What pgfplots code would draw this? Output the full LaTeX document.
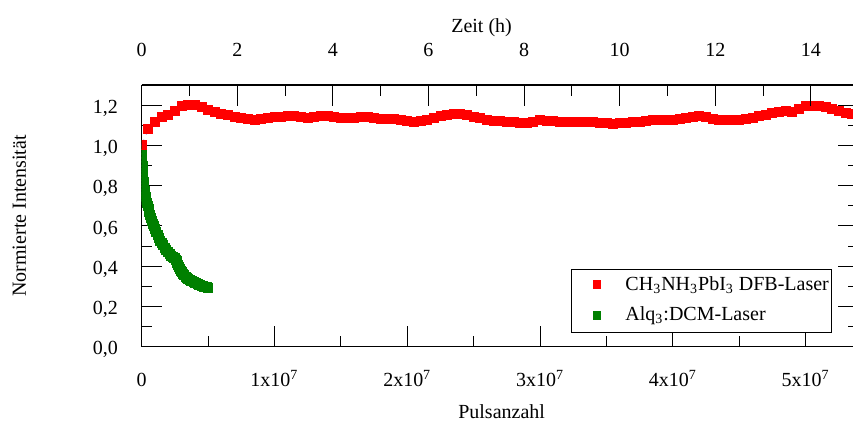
\documentclass[border=0pt]{standalone}
\usepackage{fontspec}
\setmainfont{Liberation Serif}
\usepackage{pgfplots}
\pgfplotsset{compat=1.18}

\definecolor{laserred}{RGB}{255,0,0}
\definecolor{lasergreen}{RGB}{0,128,0}

% Normalised intensity of the perovskite DFB laser (pulses, intensity)
\pgfplotstableread{
x y
0 1.000
0.5e6 1.083
1.0e6 1.118
1.5e6 1.140
2.0e6 1.150
2.5e6 1.170
3.0e6 1.195
3.5e6 1.203
4.0e6 1.200
4.5e6 1.192
5.0e6 1.178
5.5e6 1.165
6.0e6 1.158
6.5e6 1.152
7.0e6 1.143
7.5e6 1.138
8.0e6 1.132
8.5e6 1.127
9.0e6 1.130
9.5e6 1.137
10e6 1.140
10.5e6 1.143
11e6 1.145
11.5e6 1.145
12e6 1.140
12.5e6 1.137
13e6 1.140
13.5e6 1.145
14e6 1.147
14.5e6 1.140
15e6 1.135
15.5e6 1.135
16e6 1.138
16.5e6 1.142
17e6 1.140
17.5e6 1.137
18e6 1.133
18.5e6 1.130
19e6 1.130
19.5e6 1.125
20e6 1.120
20.5e6 1.118
21e6 1.120
21.5e6 1.125
22e6 1.135
22.5e6 1.145
23e6 1.152
23.5e6 1.157
24e6 1.158
24.5e6 1.150
25e6 1.140
25.5e6 1.135
26e6 1.128
26.5e6 1.123
27e6 1.120
27.5e6 1.117
28e6 1.115
28.5e6 1.113
29e6 1.113
29.5e6 1.118
30e6 1.125
30.5e6 1.123
31e6 1.120
31.5e6 1.118
32e6 1.117
32.5e6 1.117
33e6 1.117
33.5e6 1.117
34e6 1.116
34.5e6 1.114
35e6 1.110
35.5e6 1.108
36e6 1.110
36.5e6 1.113
37e6 1.117
37.5e6 1.118
38e6 1.122
38.5e6 1.125
39e6 1.125
39.5e6 1.127
40e6 1.128
40.5e6 1.132
41e6 1.138
41.5e6 1.143
42e6 1.145
42.5e6 1.140
43e6 1.133
43.5e6 1.128
44e6 1.125
44.5e6 1.125
45e6 1.128
45.5e6 1.133
46e6 1.137
46.5e6 1.145
47e6 1.153
47.5e6 1.162
48e6 1.168
48.5e6 1.170
49e6 1.167
49.5e6 1.180
50e6 1.195
50.5e6 1.198
51e6 1.197
51.5e6 1.192
52e6 1.182
52.5e6 1.170
53e6 1.160
53.5e6 1.155
54e6 1.150
}\perovskite

% Normalised intensity of the Alq3:DCM reference laser
\pgfplotstableread{
x y
0 1.000
0.01e6 0.980
0.02e6 0.960
0.03e6 0.940
0.04e6 0.920
0.055e6 0.900
0.07e6 0.880
0.085e6 0.865
0.10e6 0.850
0.125e6 0.835
0.15e6 0.820
0.175e6 0.805
0.20e6 0.790
0.235e6 0.775
0.27e6 0.760
0.31e6 0.745
0.35e6 0.730
0.40e6 0.715
0.45e6 0.700
0.51e6 0.685
0.57e6 0.670
0.63e6 0.655
0.70e6 0.640
0.77e6 0.625
0.85e6 0.610
0.92e6 0.598
1.00e6 0.585
1.10e6 0.570
1.20e6 0.555
1.30e6 0.540
1.40e6 0.525
1.50e6 0.515
1.60e6 0.505
1.72e6 0.492
1.85e6 0.480
1.97e6 0.470
2.10e6 0.460
2.22e6 0.452
2.35e6 0.445
2.42e6 0.442
2.50e6 0.440
2.56e6 0.433
2.62e6 0.425
2.67e6 0.415
2.72e6 0.405
2.78e6 0.395
2.85e6 0.385
2.92e6 0.377
3.00e6 0.370
3.10e6 0.362
3.20e6 0.355
3.30e6 0.349
3.40e6 0.343
3.50e6 0.338
3.60e6 0.333
3.70e6 0.329
3.80e6 0.325
3.90e6 0.321
4.00e6 0.318
4.10e6 0.315
4.20e6 0.312
4.30e6 0.309
4.40e6 0.306
4.50e6 0.303
4.60e6 0.301
4.70e6 0.299
4.80e6 0.297
4.90e6 0.295
5.00e6 0.294
}\alqdcm

\begin{document}
\begin{tikzpicture}
\pgfplotsset{
  every axis/.append style={
    scale only axis, width=358.5pt, height=130.85pt,
    font=\fontsize{10}{12}\selectfont,
    tick align=inside,
    major tick length=10.25pt, minor tick length=5.25pt,
    every tick/.style={black, line width=0.5pt},
    axis line style={line width=0.5pt},
    /pgf/number format/assume math mode=true,
  }
}
\begin{axis}[
  xmin=0, xmax=54e6, ymin=0, ymax=1.3,
  scaled x ticks=false,
  xtick={0,1e7,2e7,3e7,4e7,5e7},
  xticklabels={0,1x10\textsuperscript{7},2x10\textsuperscript{7},3x10\textsuperscript{7},4x10\textsuperscript{7},5x10\textsuperscript{7}},
  minor x tick num=1,
  xtick pos=bottom,
  xticklabel style={anchor=base, yshift=-20pt},
  ytick={0,0.2,0.4,0.6,0.8,1.0,1.2},
  minor y tick num=1,
  yticklabel style={anchor=base east, yshift=-4.1pt, xshift=-8.4pt,
    /pgf/number format/.cd, fixed, fixed zerofill, precision=1, use comma},
  xlabel={Pulsanzahl},
  xlabel style={at={(axis description cs:0.502,-0.2736)}, anchor=base},
  ylabel={Normierte Intensität},
  ylabel style={at={(axis description cs:-0.1614,0.5)}, anchor=base},
  clip marker paths=true,
  reverse legend,
  legend style={at={(axis description cs:0.5983,0.2958)}, anchor=north west,
    draw=black, line width=0.5pt, inner xsep=1.5pt, inner ysep=0.33pt,
    row sep=0pt, nodes={inner sep=0pt},
    /tikz/every odd column/.style={column sep=1.45pt},
    font=\fontsize{10}{12}\selectfont},
  legend cell align=left,
  legend image code/.code={
    \path[draw=none, fill=none] (0pt,-8.2pt) rectangle (24.2pt,7.1pt);
    \draw[#1, mark size=1.9pt] plot coordinates {(11.35pt,0pt)};
  },
]
\addplot[only marks, mark=square*, mark size=2.25pt, color=lasergreen] table {\alqdcm};
\addlegendentry{Alq\textsubscript{3}:DCM-Laser}
\addplot[blue, dashed, line width=0.5pt, forget plot] coordinates {(0,1.000) (0.5e6,1.083)};
\addplot[only marks, mark=square*, mark size=2.25pt, color=laserred] table {\perovskite};
\addlegendentry{CH\textsubscript{3}NH\textsubscript{3}PbI\textsubscript{3} DFB-Laser}
\end{axis}
% time axis on top: 1 kHz repetition rate, 3.6e6 pulses per hour
\begin{axis}[
  xmin=0, xmax=15, ymin=0, ymax=1.3,
  axis x line*=top, hide y axis,
  xtick={0,2,4,6,8,10,12,14},
  minor x tick num=1,
  xticklabel style={anchor=base, yshift=14.15pt},
  xlabel={Zeit (h)},
  xlabel style={at={(axis description cs:0.474,1.2014)}, anchor=base},
]
\end{axis}
\pgfresetboundingbox
\path[use as bounding box] ([shift={(-70.85pt,-38.65pt)}]current axis.south west)
  rectangle ([shift={(-2.85pt,42.5pt)}]current axis.north east);
\end{tikzpicture}
\end{document}
